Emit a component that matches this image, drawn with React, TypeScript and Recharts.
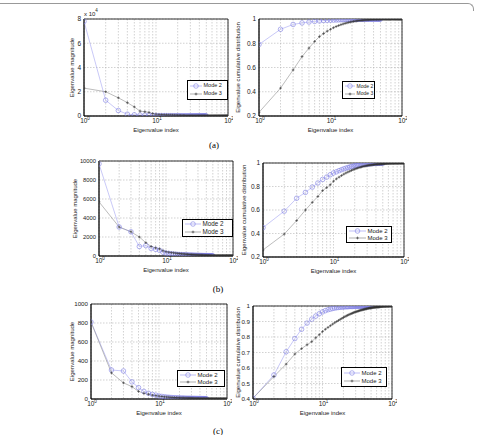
import React from 'react';
import { LineChart, Line, XAxis, YAxis, CartesianGrid, ReferenceArea, Legend } from 'recharts';

const FONT = '"Liberation Sans", Arial, sans-serif';
const SERIF = '"Liberation Serif", "Times New Roman", serif';

const SERIES_NAMES = ['Mode 2', 'Mode 3'];

const IDX = [
  1, 2, 3, 4, 5, 6, 7, 8, 9, 10, 11, 12, 13, 14, 15, 16, 17, 18, 19, 20,
  21, 22, 23, 24, 25, 26, 27, 28, 29, 30, 31, 32, 33, 34, 35, 36, 37, 38, 39, 40,
  41, 42, 43, 44, 45, 46, 47, 48, 49, 50, 51, 52, 53, 54, 55, 56, 57, 58, 59, 60,
  61, 62, 63, 64, 65, 66, 67, 68, 69, 70, 71, 72, 73, 74, 75, 76, 77, 78, 79, 80,
  81, 82, 83, 84, 85, 86, 87, 88, 89, 90, 91, 92, 93, 94, 95, 96, 97, 98, 99, 100,
];

const X_TICKS = [1, 2, 3, 4, 5, 6, 7, 8, 9, 10, 20, 30, 40, 50, 60, 70, 80, 90, 100];
const X_MAJOR = [1, 10, 100];

// (a) magnitudes
const A_M2 = [
  78000, 13000, 4500, 1500, 1000, 800, 650, 550, 450, 400,
  350, 320, 290, 260, 240, 220, 200, 185, 170, 160,
  150, 140, 130, 120, 112, 105, 98, 92, 86, 80,
  75, 70, 66, 62, 58, 55, 52, 49, 46, 43,
  40, 38, 36, 34, 32, 30, 28, 26, 24, 22,
];
const A_M3 = [
  23000, 20000, 15000, 11000, 7500, 4000, 3500, 3000, 2000, 1500,
  1300, 1200, 1100, 1000, 920, 850, 790, 730, 680, 630,
  590, 550, 520, 490, 460, 430, 410, 390, 370, 350,
  330, 315, 300, 285, 270, 258, 246, 235, 224, 214,
  205, 196, 188, 180, 172, 165, 158, 152, 146, 140,
  135, 130, 125, 120, 116, 112, 108, 104, 100, 97,
  94, 91, 88, 85, 82, 80, 77, 75, 72, 70,
  68, 66, 64, 62, 60, 58, 56, 55, 53, 52,
  50, 49, 47, 46, 45, 43, 42, 41, 40, 39,
  38, 37, 36, 35, 34, 33, 32, 31, 30, 29,
];
// (a) cumulative
const A_C2 = [
  0.79, 0.915, 0.955, 0.968, 0.975, 0.98, 0.984, 0.987, 0.989, 0.99,
  0.991, 0.992, 0.993, 0.994, 0.994, 0.995, 0.995, 0.996, 0.996, 0.996,
  0.997, 0.997, 0.997, 0.998, 0.998, 0.998, 0.998, 0.998, 0.998, 0.999,
  0.999, 0.999, 0.999, 0.999, 0.999, 0.999, 0.999, 0.999, 0.999, 1,
  1, 1, 1, 1, 1, 1, 1, 1, 1, 1,
];
const A_C3 = [
  0.23, 0.43, 0.58, 0.69, 0.76, 0.815, 0.855, 0.88, 0.9, 0.915,
  0.928, 0.938, 0.946, 0.953, 0.959, 0.964, 0.968, 0.972, 0.975, 0.978,
  0.98, 0.982, 0.984, 0.986, 0.987, 0.988, 0.989, 0.99, 0.991, 0.992,
  0.993, 0.993, 0.994, 0.994, 0.995, 0.995, 0.995, 0.996, 0.996, 0.996,
  0.997, 0.997, 0.997, 0.997, 0.998, 0.998, 0.998, 0.998, 0.998, 0.998,
  0.998, 0.999, 0.999, 0.999, 0.999, 0.999, 0.999, 0.999, 0.999, 0.999,
  0.999, 0.999, 0.999, 0.999, 0.999, 0.999, 0.999, 0.999, 0.999, 0.999,
  1, 1, 1, 1, 1, 1, 1, 1, 1, 1,
  1, 1, 1, 1, 1, 1, 1, 1, 1, 1,
  1, 1, 1, 1, 1, 1, 1, 1, 1, 1,
];

// (b) magnitudes
const B_M2 = [
  9700, 3050, 2550, 1000, 1100, 800, 700, 600, 400, 300,
  260, 230, 200, 180, 165, 150, 140, 130, 120, 112,
  105, 98, 92, 86, 80, 75, 70, 66, 62, 58,
  55, 52, 49, 46, 43, 40, 38, 36, 34, 32,
  30, 28, 26, 24, 22, 20, 18, 16, 14, 12,
];
const B_M3 = [
  5700, 3050, 2550, 2000, 1400, 1000, 850, 750, 550, 450,
  400, 360, 330, 300, 275, 255, 235, 220, 205, 190,
  178, 167, 157, 148, 140, 132, 125, 118, 112, 106,
  101, 96, 92, 88, 84, 80, 77, 74, 71, 68,
  66, 63, 61, 59, 57, 55, 53, 51, 50, 48,
  47, 45, 44, 43, 42, 41, 40, 39, 38, 37,
  36, 35, 34, 33, 33, 32, 31, 30, 30, 29,
  28, 28, 27, 26, 26, 25, 25, 24, 24, 23,
  23, 22, 22, 21, 21, 20, 20, 19, 19, 18,
  18, 17, 17, 16, 16, 15, 15, 14, 14, 13,
];
// (b) cumulative
const B_C2 = [
  0.45, 0.59, 0.7, 0.75, 0.795, 0.83, 0.86, 0.88, 0.9, 0.915,
  0.925, 0.935, 0.943, 0.95, 0.956, 0.961, 0.966, 0.97, 0.973, 0.976,
  0.979, 0.981, 0.983, 0.985, 0.987, 0.988, 0.989, 0.99, 0.991, 0.992,
  0.993, 0.994, 0.995, 0.995, 0.996, 0.996, 0.997, 0.997, 0.998, 0.998,
  0.998, 0.999, 0.999, 0.999, 0.999, 1, 1, 1, 1, 1,
];
const B_C3 = [
  0.26, 0.395, 0.51, 0.6, 0.665, 0.715, 0.765, 0.79, 0.815, 0.845,
  0.865, 0.88, 0.893, 0.905, 0.915, 0.923, 0.93, 0.937, 0.943, 0.948,
  0.953, 0.957, 0.961, 0.964, 0.967, 0.97, 0.972, 0.974, 0.976, 0.978,
  0.98, 0.981, 0.982, 0.983, 0.984, 0.985, 0.986, 0.987, 0.988, 0.989,
  0.989, 0.99, 0.99, 0.991, 0.991, 0.992, 0.992, 0.993, 0.993, 0.993,
  0.994, 0.994, 0.994, 0.995, 0.995, 0.995, 0.995, 0.996, 0.996, 0.996,
  0.996, 0.997, 0.997, 0.997, 0.997, 0.997, 0.998, 0.998, 0.998, 0.998,
  0.998, 0.998, 0.998, 0.999, 0.999, 0.999, 0.999, 0.999, 0.999, 0.999,
  0.999, 0.999, 0.999, 0.999, 0.999, 1, 1, 1, 1, 1,
  1, 1, 1, 1, 1, 1, 1, 1, 1, 1,
];

// (c) magnitudes
const C_M2 = [
  810, 305, 295, 180, 120, 80, 60, 48, 40, 32,
  27, 23, 20, 18, 16, 14, 13, 12, 11, 10,
  9.5, 9, 8.5, 8, 7.5, 7, 6.8, 6.5, 6.2, 6,
  5.8, 5.6, 5.4, 5.2, 5, 4.8, 4.6, 4.4, 4.2, 4,
  3.8, 3.6, 3.4, 3.2, 3, 2.8, 2.6, 2.4, 2.2, 2,
];
const C_M3 = [
  810, 275, 170, 130, 80, 60, 50, 40, 35, 30,
  26, 23, 21, 19, 17, 16, 15, 14, 13, 12,
  11.5, 11, 10.5, 10, 9.6, 9.2, 8.8, 8.4, 8, 7.7,
  7.4, 7.1, 6.8, 6.5, 6.3, 6.1, 5.9, 5.7, 5.5, 5.3,
  5.1, 4.9, 4.8, 4.6, 4.5, 4.3, 4.2, 4.1, 4, 3.9,
  3.8, 3.7, 3.6, 3.5, 3.4, 3.3, 3.2, 3.1, 3, 2.9,
  2.8, 2.7, 2.6, 2.5, 2.4, 2.3, 2.2, 2.1, 2, 1.9,
  1.8, 1.7, 1.6, 1.5, 1.4, 1.3, 1.2, 1.1, 1, 0.9,
  0.8, 0.7, 0.6, 0.5, 0.5, 0.4, 0.4, 0.3, 0.3, 0.2,
  0.2, 0.2, 0.1, 0.1, 0.1, 0.1, 0, 0, 0, 0,
];
// (c) cumulative
const C_C2 = [
  0.405, 0.555, 0.705, 0.79, 0.85, 0.89, 0.915, 0.935, 0.95, 0.962,
  0.97, 0.976, 0.98, 0.984, 0.987, 0.989, 0.991, 0.992, 0.993, 0.994,
  0.995, 0.995, 0.996, 0.996, 0.997, 0.997, 0.997, 0.998, 0.998, 0.998,
  0.998, 0.999, 0.999, 0.999, 0.999, 0.999, 0.999, 0.999, 1, 1,
  1, 1, 1, 1, 1, 1, 1, 1, 1, 1,
];
const C_C3 = [
  0.405, 0.545, 0.625, 0.69, 0.725, 0.75, 0.77, 0.795, 0.815, 0.835,
  0.85, 0.862, 0.873, 0.883, 0.892, 0.9, 0.907, 0.914, 0.92, 0.926,
  0.931, 0.936, 0.94, 0.944, 0.948, 0.951, 0.954, 0.957, 0.96, 0.962,
  0.964, 0.966, 0.968, 0.97, 0.972, 0.973, 0.975, 0.976, 0.977, 0.979,
  0.98, 0.981, 0.982, 0.983, 0.984, 0.985, 0.986, 0.987, 0.987, 0.988,
  0.989, 0.989, 0.99, 0.99, 0.991, 0.991, 0.992, 0.992, 0.993, 0.993,
  0.993, 0.994, 0.994, 0.994, 0.995, 0.995, 0.995, 0.996, 0.996, 0.996,
  0.996, 0.997, 0.997, 0.997, 0.997, 0.997, 0.998, 0.998, 0.998, 0.998,
  0.998, 0.998, 0.999, 0.999, 0.999, 0.999, 0.999, 0.999, 0.999, 0.999,
  1, 1, 1, 1, 1, 1, 1, 1, 1, 1,
];

const M_TICKS_A = [0, 20000, 40000, 60000, 80000];
const M_TICKS_B = [0, 2000, 4000, 6000, 8000, 10000];
const M_TICKS_C = [0, 200, 400, 600, 800, 1000];
const C_TICKS_AB = [0.2, 0.4, 0.6, 0.8, 1];
const C_TICKS_C = [0.4, 0.5, 0.6, 0.7, 0.8, 0.9, 1];

const PANEL_LABELS = ['(a)', '(b)', '(c)'];

const BLUE_LINE = '#a4a4f2';
const BLUE_MARK = '#8080e4';
const GRAY_LINE = '#8e8e8e';
const DARK_MARK = '#333';
const TEXT = '#222';

function rows(m2: number[], m3: number[]) {
  return IDX.map((x, i) => ({ x, m2: i < m2.length ? m2[i] : null, m3: i < m3.length ? m3[i] : null }));
}

const renderXTick = (props: any) => {
  const { x, y, payload } = props;
  const v = payload.value;
  if (!X_MAJOR.includes(v)) return <g key={`t${v}`} />;
  const e = Math.round(Math.log10(v));
  return (
    <text key={`t${v}`} x={x + 1} y={y + 4} textAnchor="middle" fontSize={6.5} fill={TEXT} fontFamily={FONT}>
      <tspan>10</tspan>
      <tspan dy={-3} fontSize={4.5}>{e}</tspan>
    </text>
  );
};

const plusDot = (props: any) => {
  const { cx, cy, index } = props;
  if (cx == null || cy == null || Number.isNaN(cy)) return <g key={`p${index}`} />;
  return (
    <path
      key={`p${index}`}
      d={`M${cx - 1.4},${cy}h2.8M${cx},${cy - 1.4}v2.8`}
      stroke={DARK_MARK}
      strokeWidth={0.6}
      fill="none"
    />
  );
};

function LegendBox({ w, h, fs, lw }: any) {
  return (
    <div
      style={{
        width: w,
        height: h,
        boxSizing: 'border-box',
        border: '0.8px solid #000',
        background: '#fff',
        display: 'flex',
        flexDirection: 'column',
        justifyContent: 'space-evenly',
        fontFamily: FONT,
        fontSize: fs,
        color: TEXT,
        lineHeight: 1,
        paddingLeft: 1.5,
        whiteSpace: 'nowrap',
        overflow: 'hidden',
      }}
    >
      {SERIES_NAMES.map((name, i) => (
        <div key={name} style={{ display: 'flex', alignItems: 'center' }}>
          <svg width={lw} height={6} style={{ display: 'block', flexShrink: 0 }}>
            <line x1={0} y1={3} x2={lw} y2={3} stroke={i === 0 ? BLUE_LINE : GRAY_LINE} strokeWidth={0.7} />
            {i === 0 ? (
              <circle cx={lw / 2} cy={3} r={2.3} stroke={BLUE_MARK} fill="none" strokeWidth={0.6} />
            ) : (
              <path d={`M${lw / 2 - 1.4},3h2.8M${lw / 2},1.6v2.8`} stroke={DARK_MARK} strokeWidth={0.6} />
            )}
          </svg>
          <span style={{ marginLeft: 2 }}>{name}</span>
        </div>
      ))}
    </div>
  );
}

function Panel({ cfg }: any) {
  const { L, T, R, B, data, yDomain, yTicks, yFmt, yTitle, yTitleDx, legend, tfs } = cfg;
  const YW = 40;
  const XH = 24;
  const MT = 5;
  const MR = 5;
  const width = R - L + YW + MR;
  const height = B - T + MT + XH;
  const left = L - YW;
  const top = T - MT;

  const yLabel = (p: any) => {
    const vb = p.viewBox;
    const cx = vb.x + vb.width - yTitleDx;
    const cy = vb.y + vb.height / 2;
    return (
      <text
        x={cx}
        y={cy}
        transform={`rotate(-90 ${cx} ${cy})`}
        textAnchor="middle"
        dominantBaseline="central"
        fontSize={6}
        fontFamily={FONT}
        fill={TEXT}
      >
        {yTitle}
      </text>
    );
  };
  const xLabel = (p: any) => {
    const vb = p.viewBox;
    return (
      <text
        x={vb.x + vb.width / 2}
        y={vb.y + 14}
        textAnchor="middle"
        dominantBaseline="central"
        fontSize={6}
        fontFamily={FONT}
        fill={TEXT}
      >
        Eigenvalue index
      </text>
    );
  };

  return (
    <div style={{ position: 'absolute', left, top }}>
      <LineChart width={width} height={height} data={data} margin={{ top: MT, right: MR, left: 0, bottom: 0 }}>
        <CartesianGrid stroke="#b4b4b4" strokeDasharray="1.5 1.5" strokeWidth={0.6} />
        <XAxis
          dataKey="x"
          type="number"
          scale="log"
          domain={[1, 100]}
          ticks={X_TICKS}
          interval={0}
          tick={renderXTick}
          tickLine={false}
          tickSize={2}
          tickMargin={1}
          axisLine={{ stroke: '#000', strokeWidth: 0.8 }}
          height={XH}
          label={xLabel}
          allowDataOverflow
        />
        <YAxis
          type="number"
          domain={yDomain}
          ticks={yTicks}
          interval={0}
          tickFormatter={yFmt}
          tick={{ fontSize: tfs, fill: TEXT, fontFamily: FONT }}
          tickLine={false}
          tickSize={2}
          tickMargin={1}
          axisLine={{ stroke: '#000', strokeWidth: 0.8 }}
          width={YW}
          label={yLabel}
          allowDataOverflow
        />
        <ReferenceArea x1={1} x2={100} y1={yDomain[0]} y2={yDomain[1]} fill="none" stroke="#000" strokeWidth={0.8} />
        <Line
          dataKey="m2"
          name={SERIES_NAMES[0]}
          stroke={BLUE_LINE}
          strokeWidth={0.6}
          dot={{ r: 2.3, stroke: BLUE_MARK, fill: 'none', strokeWidth: 0.6 }}
          activeDot={false}
          isAnimationActive={false}
          connectNulls={false}
        />
        <Line
          dataKey="m3"
          name={SERIES_NAMES[1]}
          stroke={GRAY_LINE}
          strokeWidth={0.6}
          dot={plusDot}
          activeDot={false}
          isAnimationActive={false}
          connectNulls={false}
        />
        <Legend
          layout="horizontal"
          verticalAlign="middle"
          align="center"
          content={() => <LegendBox w={legend.w} h={legend.h} fs={legend.fs} lw={legend.lw} />}
          wrapperStyle={{ left: legend.x - left, top: legend.y - top, width: legend.w, height: legend.h, margin: 0 }}
        />
      </LineChart>
    </div>
  );
}

const fmtA = (v: number) => String(v / 10000);
const fmtPlain = (v: number) => String(v);

const PANELS = [
  {
    L: 84, T: 19, R: 228, B: 116, data: rows(A_M2, A_M3), yDomain: [0, 80000], yTicks: M_TICKS_A, yFmt: fmtA,
    yTitle: 'Eigenvalue magnitude', yTitleDx: 12, tfs: 6.5,
    legend: { x: 187, y: 80, w: 41, h: 20, fs: 5.5, lw: 12 },
  },
  {
    L: 259, T: 19, R: 402, B: 116, data: rows(A_C2, A_C3), yDomain: [0.2, 1], yTicks: C_TICKS_AB, yFmt: fmtPlain,
    yTitle: 'Eigenvalue cumulative distribution', yTitleDx: 21, tfs: 6.5,
    legend: { x: 342, y: 81, w: 33, h: 18, fs: 5, lw: 10 },
  },
  {
    L: 99, T: 161, R: 233, B: 256, data: rows(B_M2, B_M3), yDomain: [0, 10000], yTicks: M_TICKS_B, yFmt: fmtPlain,
    yTitle: 'Eigenvalue magnitude', yTitleDx: 24, tfs: 5.8,
    legend: { x: 182, y: 219, w: 51, h: 18, fs: 6.3, lw: 16 },
  },
  {
    L: 263, T: 163, R: 404, B: 257, data: rows(B_C2, B_C3), yDomain: [0.2, 1], yTicks: C_TICKS_AB, yFmt: fmtPlain,
    yTitle: 'Eigenvalue cumulative distribution', yTitleDx: 19, tfs: 6.5,
    legend: { x: 346, y: 226, w: 46, h: 17, fs: 6, lw: 17 },
  },
  {
    L: 91, T: 304, R: 227, B: 399, data: rows(C_M2, C_M3), yDomain: [0, 1000], yTicks: M_TICKS_C, yFmt: fmtPlain,
    yTitle: 'Eigenvalue magnitude', yTitleDx: 19, tfs: 6.2,
    legend: { x: 177, y: 370, w: 48, h: 17, fs: 6, lw: 16 },
  },
  {
    L: 253, T: 306, R: 392, B: 399, data: rows(C_C2, C_C3), yDomain: [0.4, 1], yTicks: C_TICKS_C, yFmt: fmtPlain,
    yTitle: 'Eigenvalue cumulative distribution', yTitleDx: 15, tfs: 6.2,
    legend: { x: 341, y: 367, w: 46, h: 20, fs: 6, lw: 16 },
  },
];

const LABEL_POS = [
  { x: 214, y: 145 },
  { x: 218, y: 289 },
  { x: 218, y: 431 },
];

export default function App() {
  return (
    <div style={{ position: 'absolute', left: 0, top: 0, width: 478, height: 435, background: '#fff', overflow: 'hidden' }}>
      <div
        style={{
          position: 'absolute', left: 0, top: 3, width: 474, height: 8,
          borderTop: '1px solid #999', borderRight: '1px solid #999', borderTopRightRadius: 6, boxSizing: 'border-box',
        }}
      />
      {PANELS.map((p, i) => (
        <Panel key={i} cfg={p} />
      ))}
      <div style={{ position: 'absolute', left: 84, top: 11, fontFamily: FONT, fontSize: 6, color: TEXT, lineHeight: 1 }}>
        x 10<sup style={{ fontSize: 4.5, verticalAlign: 'top', position: 'relative', top: -2 }}>4</sup>
      </div>
      {PANEL_LABELS.map((t, i) => (
        <div
          key={t}
          style={{
            position: 'absolute', left: LABEL_POS[i].x - 10, top: LABEL_POS[i].y - 6, width: 20, textAlign: 'center',
            fontFamily: SERIF, fontSize: 9, color: '#000', lineHeight: '12px',
          }}
        >
          {t}
        </div>
      ))}
    </div>
  );
}
